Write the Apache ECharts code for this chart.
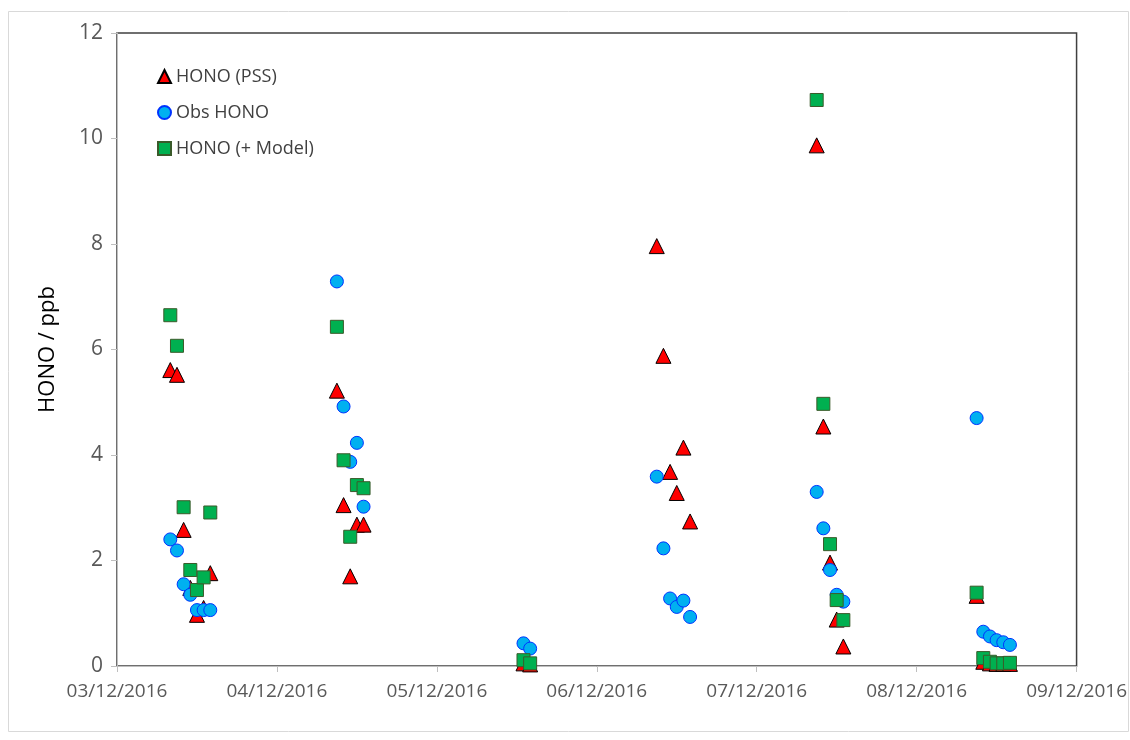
<!DOCTYPE html>
<html>
<head>
<meta charset="utf-8">
<script src="https://cdn.jsdelivr.net/npm/echarts@6/dist/echarts.min.js"></script>
<style>
  html, body { margin: 0; padding: 0; background: #fff; }
  #chart { width: 1130px; height: 740px; }
</style>
</head>
<body>
<div id="chart"></div>
<script>
// x tick labels (one per day, UTC midnight)
var dayTicks = ['2016-12-03', '2016-12-04', '2016-12-05', '2016-12-06', '2016-12-07', '2016-12-08', '2016-12-09'];

// HONO (PSS)
var pssTimes = [
  '2016-12-03 08', '2016-12-03 09', '2016-12-03 10', '2016-12-03 11', '2016-12-03 12', '2016-12-03 13', '2016-12-03 14',
  '2016-12-04 09', '2016-12-04 10', '2016-12-04 11', '2016-12-04 12', '2016-12-04 13',
  '2016-12-05 13', '2016-12-05 14',
  '2016-12-06 09', '2016-12-06 10', '2016-12-06 11', '2016-12-06 12', '2016-12-06 13', '2016-12-06 14',
  '2016-12-07 09', '2016-12-07 10', '2016-12-07 11', '2016-12-07 12', '2016-12-07 13',
  '2016-12-08 09', '2016-12-08 10', '2016-12-08 11', '2016-12-08 12', '2016-12-08 13', '2016-12-08 14'
];
var pssVals = [
  5.61, 5.52, 2.58, 1.48, 0.97, 1.10, 1.76,
  5.22, 3.05, 1.70, 2.68, 2.68,
  0.05, 0.03,
  7.96, 5.88, 3.68, 3.28, 4.14, 2.74,
  9.87, 4.54, 1.96, 0.88, 0.37,
  1.33, 0.08, 0.05, 0.04, 0.04, 0.04
];

// Obs HONO
var obsTimes = [
  '2016-12-03 08', '2016-12-03 09', '2016-12-03 10', '2016-12-03 11', '2016-12-03 12', '2016-12-03 13', '2016-12-03 14',
  '2016-12-04 09', '2016-12-04 10', '2016-12-04 11', '2016-12-04 12', '2016-12-04 13',
  '2016-12-05 13', '2016-12-05 14',
  '2016-12-06 09', '2016-12-06 10', '2016-12-06 11', '2016-12-06 12', '2016-12-06 13', '2016-12-06 14',
  '2016-12-07 09', '2016-12-07 10', '2016-12-07 11', '2016-12-07 12', '2016-12-07 13',
  '2016-12-08 09', '2016-12-08 10', '2016-12-08 11', '2016-12-08 12', '2016-12-08 13', '2016-12-08 14'
];
var obsVals = [
  2.40, 2.19, 1.55, 1.35, 1.06, 1.06, 1.06,
  7.29, 4.92, 3.87, 4.23, 3.02,
  0.43, 0.33,
  3.59, 2.23, 1.28, 1.12, 1.24, 0.93,
  3.30, 2.61, 1.82, 1.35, 1.22,
  4.70, 0.65, 0.56, 0.49, 0.45, 0.40
];

// HONO (+ Model)
var modTimes = [
  '2016-12-03 08', '2016-12-03 09', '2016-12-03 10', '2016-12-03 11', '2016-12-03 12', '2016-12-03 13', '2016-12-03 14',
  '2016-12-04 09', '2016-12-04 10', '2016-12-04 11', '2016-12-04 12', '2016-12-04 13',
  '2016-12-05 13', '2016-12-05 14',
  '2016-12-07 09', '2016-12-07 10', '2016-12-07 11', '2016-12-07 12', '2016-12-07 13',
  '2016-12-08 09', '2016-12-08 10', '2016-12-08 11', '2016-12-08 12', '2016-12-08 13', '2016-12-08 14'
];
var modVals = [
  6.65, 6.07, 3.01, 1.82, 1.44, 1.68, 2.91,
  6.43, 3.90, 2.45, 3.43, 3.37,
  0.11, 0.05,
  10.73, 4.97, 2.31, 1.25, 0.87,
  1.39, 0.15, 0.08, 0.05, 0.05, 0.06
];

var DAY = 86400000;

function toMs(s) {
  var d = s.slice(0, 10).split('-');
  var h = s.length > 10 ? +s.slice(11, 13) : 0;
  return Date.UTC(+d[0], +d[1] - 1, +d[2], h);
}
function pairs(times, vals) {
  return times.map(function (t, i) { return [toMs(t), vals[i]]; });
}
function pad(n) { return (n < 10 ? '0' : '') + n; }

var xMin = toMs(dayTicks[0]);
var xMax = toMs(dayTicks[dayTicks.length - 1]);

var echar = echarts.init(document.getElementById('chart'));
var option = {
  backgroundColor: '#fff',
  animation: false,
  graphic: [{
    type: 'rect',
    shape: { x: 8.5, y: 11.5, width: 1120, height: 720 },
    style: { fill: 'none', stroke: '#d9d9d9', lineWidth: 1 },
    z: -1
  }],
  legend: {
    orient: 'vertical',
    left: 152,
    top: 62,
    itemGap: 17,
    itemWidth: 13,
    itemHeight: 13,
    textStyle: { fontFamily: 'Open Sans', fontSize: 18, color: '#404040', lineHeight: 19 },
    data: ['HONO (PSS)', 'Obs HONO', 'HONO (+ Model)']
  },
  grid: {
    left: 117,
    right: 53,
    top: 33,
    bottom: 74,
    show: true,
    borderColor: '#404040',
    borderWidth: 1.5,
    backgroundColor: 'transparent'
  },
  xAxis: {
    type: 'value',
    min: xMin,
    max: xMax,
    interval: DAY,
    axisLine: { lineStyle: { color: '#bfbfbf', width: 1 } },
    axisTick: { show: true, length: 6, lineStyle: { color: '#bfbfbf' } },
    splitLine: { show: false },
    axisLabel: {
      margin: 16,
      fontFamily: 'Open Sans',
      fontSize: 19,
      color: '#595959',
      formatter: function (v) {
        var d = new Date(v);
        return pad(d.getUTCDate()) + '/' + pad(d.getUTCMonth() + 1) + '/' + d.getUTCFullYear();
      }
    }
  },
  yAxis: {
    type: 'value',
    min: 0,
    max: 12,
    interval: 2,
    name: 'HONO / ppb',
    nameLocation: 'middle',
    nameGap: 58,
    nameTextStyle: { fontFamily: 'Open Sans', fontSize: 22, color: '#000' },
    axisLine: { show: true, lineStyle: { color: '#bfbfbf', width: 1 } },
    axisTick: { show: true, length: 6, lineStyle: { color: '#bfbfbf' } },
    splitLine: { show: false },
    axisLabel: { margin: 14, fontFamily: 'Open Sans', fontSize: 21, color: '#595959' }
  },
  series: [
    {
      name: 'HONO (PSS)',
      type: 'scatter',
      symbol: 'triangle',
      symbolSize: 15,
      itemStyle: { color: '#ff0000', borderColor: '#000', borderWidth: 1, opacity: 1 },
      data: pairs(pssTimes, pssVals)
    },
    {
      name: 'Obs HONO',
      type: 'scatter',
      symbol: 'circle',
      symbolSize: 13,
      itemStyle: { color: '#00b0f0', borderColor: '#0033ff', borderWidth: 1, opacity: 1 },
      data: pairs(obsTimes, obsVals)
    },
    {
      name: 'HONO (+ Model)',
      type: 'scatter',
      symbol: 'rect',
      symbolSize: 13,
      itemStyle: { color: '#00b050', borderColor: '#3a5a2a', borderWidth: 1, opacity: 1 },
      data: pairs(modTimes, modVals)
    }
  ]
};
echar.clear();
echar.setOption(option);
</script>
</body>
</html>
